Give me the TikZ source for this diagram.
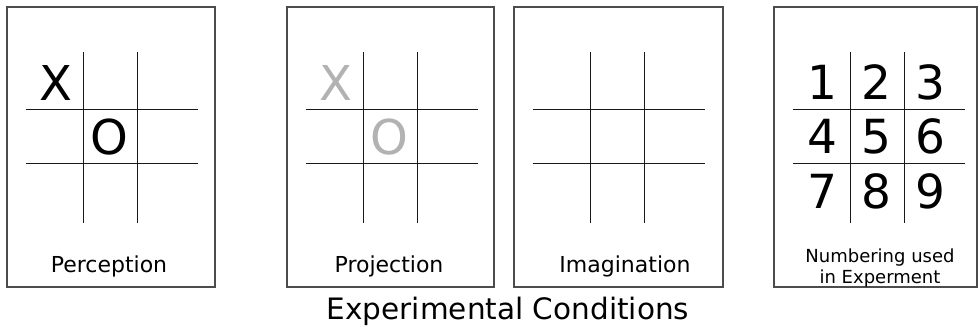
\documentclass[tikz,border=0pt]{standalone}
\usepackage{fontspec}
\setmainfont{DejaVu Sans}

\tikzset{
  panel/.style={draw=black!70, line width=1.3pt},
  gridline/.style={draw=black!90, line width=0.8pt},
  xomark/.style={inner sep=0pt, font=\fontsize{48}{48}\selectfont},
  faint/.style={text=black!30},
  caption/.style={anchor=base, inner sep=0pt, font=\fontsize{22}{24}\selectfont},
  smallcap/.style={anchor=base, inner sep=0pt, font=\fontsize{18}{20}\selectfont},
}

\begin{document}
\begin{tikzpicture}[x=1pt,y=-1pt,line cap=butt,line join=miter]
  \useasboundingbox (0,0) rectangle (978,333);

  % four panels
  \draw[panel] (7,7) rectangle (215,287);
  \draw[panel] (287,7) rectangle (494,287);
  \draw[panel] (514,7) rectangle (723,287);
  \draw[panel] (774,7) rectangle (977,287);

  % the grids, placed from each panel's left edge
  \foreach \px in {7,287,514,774}{
    \begin{scope}[xshift=\px pt]
      \draw[gridline] (76,52) -- (76,223);
      \draw[gridline] (130,52) -- (130,223);
      \draw[gridline] (18.5,109) -- (190.5,109);
      \draw[gridline] (18.5,163) -- (190.5,163);
    \end{scope}
  }

  % perception
  \node[xomark] (perc-x) at (56,83) {X};
  \node[xomark] (perc-o) at (109,137) {O};
  \node[caption] (perc-lbl) at (109,272) {Perception};

  % projection
  \node[xomark,faint] (proj-x) at (336,83) {X};
  \node[xomark,faint] (proj-o) at (389,137) {O};
  \node[caption] (proj-lbl) at (389,272) {Projection};

  % imagination
  \node[caption] (imag-lbl) at (625,272) {Imagination};

  % numbering
  \foreach \n/\c/\r in {1/0/0,2/1/0,3/2/0,4/0/1,5/1/1,6/2/1,7/0/2,8/1/2,9/2/2}
    \node[xomark, font=\fontsize{47}{47}\selectfont] (numb-\n) at (822+54*\c,82+54.5*\r) {\n};
  \node[smallcap] (numb-lbl1) at (880,262) {Numbering used};
  \node[smallcap] (numb-lbl2) at (880,283) {in Experment};

  \node[anchor=base, inner sep=0pt, font=\fontsize{29.5}{32}\selectfont] (title) at (508,319) {Experimental Conditions};
\end{tikzpicture}
\end{document}
